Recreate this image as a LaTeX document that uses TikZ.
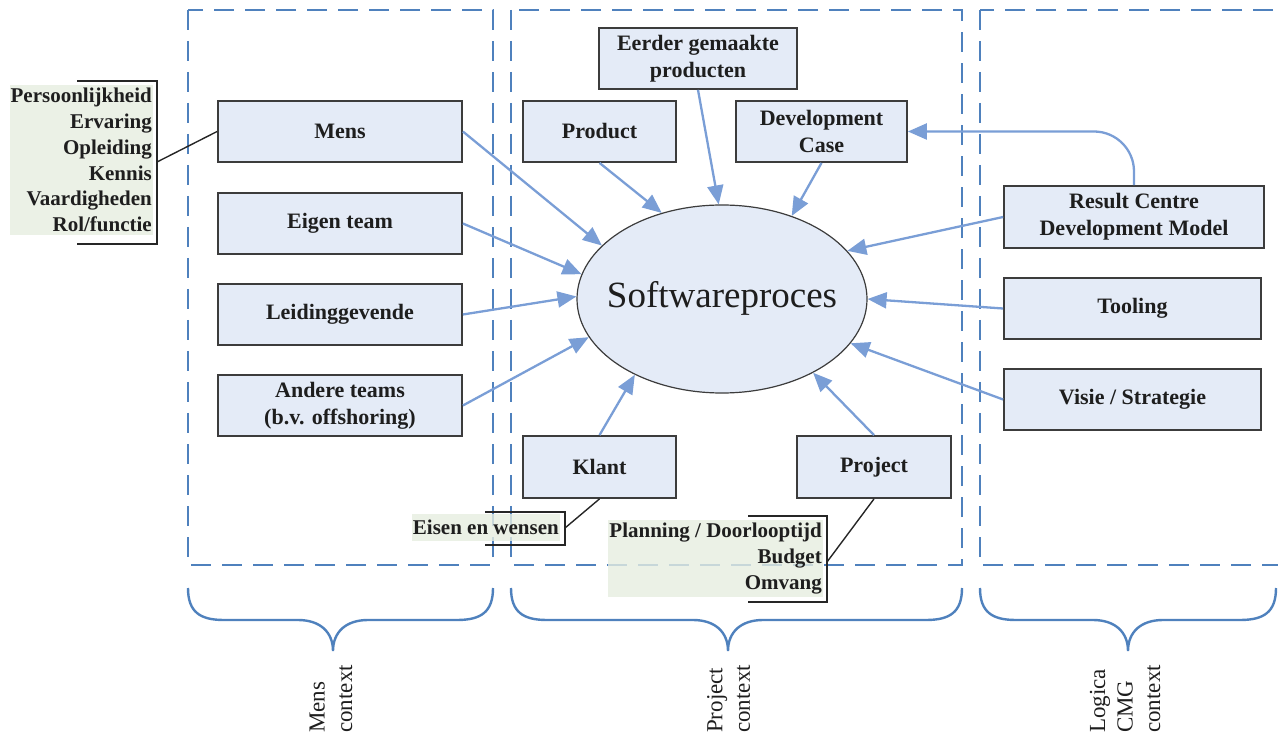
\documentclass[tikz,border=0pt]{standalone}
\usepackage{fontspec}
\setmainfont{Liberation Serif}
\usetikzlibrary{arrows.meta,shapes.geometric}

\definecolor{ctxblue}{RGB}{79,129,189}
\definecolor{arrblue}{RGB}{122,158,214}
\definecolor{boxfill}{RGB}{228,235,247}
\definecolor{boxline}{RGB}{60,60,60}
\definecolor{notefill}{RGB}{230,237,224}
\definecolor{txt}{RGB}{30,30,30}

\newcommand\boxfont{\fontsize{22}{27}\selectfont\bfseries}
\newcommand\notefont{\fontsize{21}{25.8}\selectfont\bfseries}
\newcommand\ctxfont{\fontsize{23}{27.5}\selectfont}

\begin{document}
\begin{tikzpicture}[x=1pt,y=-1pt,
  every node/.style={text=txt},
  ctx/.style={draw=ctxblue, line width=2.8pt, dash pattern=on 20pt off 11pt},
  brc/.style={draw=ctxblue, line width=2.4pt},
  factor/.style={draw=boxline, fill=boxfill, line width=1.8pt, align=center,
                 inner sep=0pt, font=\boxfont},
  arr/.style={draw=arrblue, line width=2.3pt, -{Triangle[length=19pt,width=16pt]}},
  note/.style={fill=notefill, fill opacity=0.8, text opacity=1, align=right,
               font=\notefont, inner xsep=1pt, inner ysep=3pt},
  bracket/.style={draw=black!85, line width=1.4pt},
  ctxlabel/.style={rotate=90, anchor=west, align=left, font=\ctxfont, inner sep=0pt}
]
\useasboundingbox (0,0) rectangle (1278,735);
\clip (0,0) rectangle (1278,735);

% context frames
\draw[ctx] (188,10) rectangle (493,565);
\draw[ctx] (511,10) rectangle (962,565);
\draw[ctx] (980,10) rectangle (1300,565);

% braces under the frames
\foreach \a/\t/\b in {188/333/493, 511/728/962, 980/1128/1276}{
  \draw[brc] (\a,588) .. controls (\a,612) and ({\a+12},620) .. ({\a+36},620)
    -- ({\t-35},620) .. controls ({\t-13},620) and (\t,632) .. (\t,651)
    .. controls (\t,632) and ({\t+13},620) .. ({\t+35},620)
    -- ({\b-36},620) .. controls ({\b-12},620) and (\b,612) .. (\b,588);
}

% context labels
\node[ctxlabel] (lmens) at (331,733) {Mens\\context};
\node[ctxlabel] (lproj) at (728.5,733) {Project\\context};
\node[ctxlabel] (llog) at (1125,733) {Logica\\CMG\\context};

% central process
\node[ellipse, draw=boxline, line width=1.2pt, fill=boxfill, minimum width=290pt,
      minimum height=188pt, inner sep=0pt] (sp) at (722,299) {};
\node[font=\fontsize{37}{40}\selectfont] (sptext) at (722,298) {Softwareproces};

% people context
\node[factor, minimum width=244pt, minimum height=61pt] (mens) at (340,131.5) {Mens};
\node[factor, minimum width=244pt, minimum height=61pt] (eigen) at (340,223.5) {Eigen team};
\node[factor, minimum width=244pt, minimum height=61pt] (leid) at (340,314.5) {Leidinggevende};
\node[factor, minimum width=244pt, minimum height=61pt] (andere) at (340,405.5) {Andere teams\\(b.v. offshoring)};

% project context
\node[factor, minimum width=198pt, minimum height=61pt] (eerder) at (698,58.5) {Eerder gemaakte\\producten};
\node[factor, minimum width=153pt, minimum height=61pt] (product) at (599.5,131.5) {Product};
\node[factor, minimum width=171pt, minimum height=61pt] (devcase) at (821.5,131.5) {Development\\Case};
\node[factor, minimum width=153pt, minimum height=62pt] (klant) at (599.5,467) {Klant};
\node[factor, minimum width=154pt, minimum height=62pt] (project) at (874,467) {Project};

% organisation context
\node[factor, minimum width=260pt, minimum height=62pt] (rcdm) at (1134,217) {Result Centre\\Development Model};
\node[factor, minimum width=257pt, minimum height=61pt] (tooling) at (1132.5,308.5) {Tooling};
\node[factor, minimum width=257pt, minimum height=61pt] (visie) at (1132.5,399.5) {Visie / Strategie};

% influences on the process
\draw[arr] (mens.east) -- (sp.156);
\draw[arr] (eigen.east) -- (sp.170);
\draw[arr] (leid.east) -- (sp.179);
\draw[arr] (andere.east) -- (sp.196);
\draw[arr] (product.south) -- (sp.125);
\draw[arr] (eerder.south) -- (sp.92);
\draw[arr] (devcase.south) -- (sp.50);
\draw[arr] (rcdm.west) -- (sp.21);
\draw[arr] (tooling.west) -- (sp.0);
\draw[arr] (visie.west) -- (sp.-19);
\draw[arr] (klant.north) -- (sp.221);
\draw[arr] (project.north) -- (sp.321);
\draw[arr, rounded corners=40pt] (rcdm.north) |- (devcase.east);

% annotation: aspects of a person
\node[note, anchor=north east] (pers) at (153,85)
  {Persoonlijkheid\\Ervaring\\Opleiding\\Kennis\\Vaardigheden\\Rol/functie};
\draw[bracket] (77,81) -| (157,244) -- (77,244);
\coordinate (persbr) at (157,162);
\draw[bracket] (persbr) -- (mens.west);

% annotation: customer
\node[note, anchor=east, minimum height=27pt] (eisen) at (560,527.5) {Eisen en wensen};
\draw[bracket] (485,512) -| (565,545) -- (485,545);
\coordinate (eisbr) at (565,528);
\draw[bracket] (eisbr) -- (klant.south);

% annotation: project
\node[note, anchor=north east] (plan) at (823,520) {Planning / Doorlooptijd\\Budget\\Omvang};
\draw[bracket] (748,516) -| (827,602) -- (748,602);
\coordinate (planbr) at (827,562);
\draw[bracket] (planbr) -- (project.south);
\end{tikzpicture}
\end{document}
